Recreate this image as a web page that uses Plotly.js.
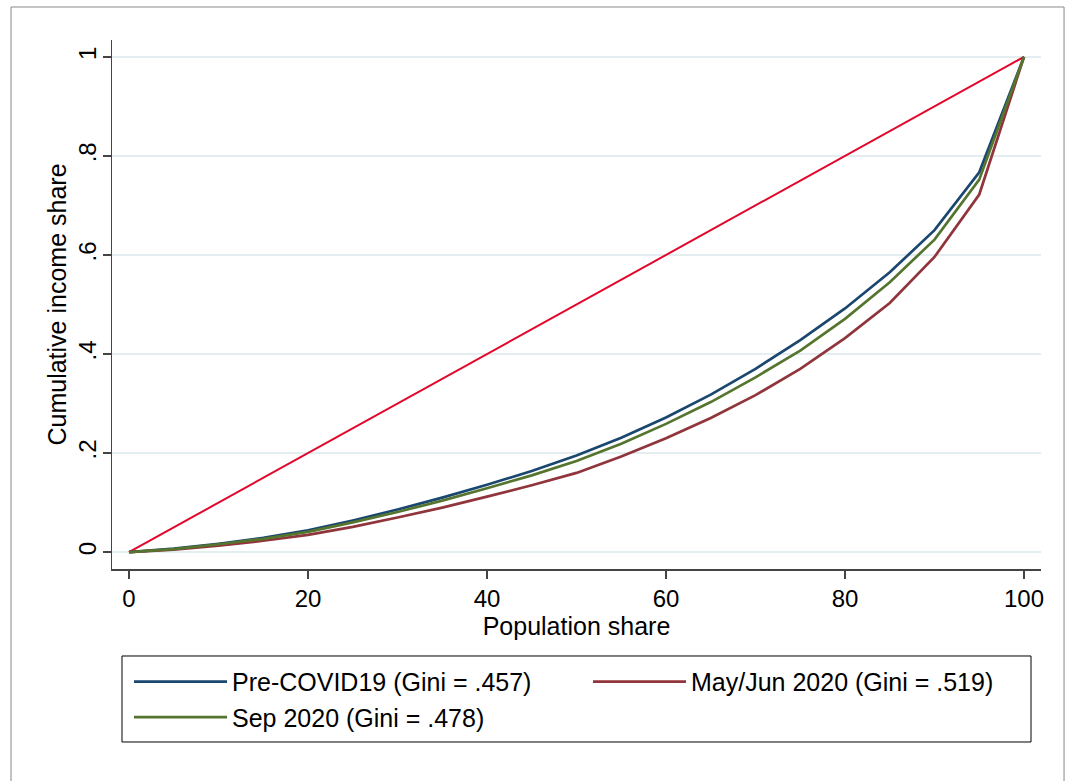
<!DOCTYPE html>
<html>
<head>
<meta charset="utf-8">
<script src="https://cdn.plot.ly/plotly-3.0.1.min.js"></script>
<style>
  html, body { margin: 0; padding: 0; background: #ffffff; }
  #chart { width: 1078px; height: 781px; }
</style>
</head>
<body>
<div id="chart"></div>
<script>
// Population share (percent)
const popShare = [0, 5, 10, 15, 20, 25, 30, 35, 40, 45, 50, 55, 60, 65, 70, 75, 80, 85, 90, 95, 100];
// Cumulative income share
const preCovid = [0, 0.007, 0.017, 0.029, 0.044, 0.064, 0.086, 0.110, 0.136, 0.164, 0.195, 0.231, 0.272, 0.318, 0.370, 0.428, 0.492, 0.565, 0.650, 0.767, 1.0];
const mayJun2020 = [0, 0.005, 0.013, 0.023, 0.035, 0.051, 0.070, 0.090, 0.112, 0.135, 0.160, 0.193, 0.230, 0.271, 0.317, 0.370, 0.432, 0.503, 0.596, 0.722, 1.0];
const sep2020 = [0, 0.006, 0.016, 0.027, 0.041, 0.060, 0.081, 0.104, 0.129, 0.155, 0.184, 0.219, 0.259, 0.303, 0.353, 0.407, 0.471, 0.545, 0.631, 0.752, 1.0];
// Line of equality
const equalityX = [0, 100];
const equalityY = [0, 1];
// Legend labels
const seriesNames = ["Pre-COVID19 (Gini = .457)", "May/Jun 2020 (Gini = .519)", "Sep 2020 (Gini = .478)"];
// Tick labels
const xTicks = [0, 20, 40, 60, 80, 100];
const xTickText = ["0", "20", "40", "60", "80", "100"];
const yTicks = [0, 0.2, 0.4, 0.6, 0.8, 1];
const yTickText = ["0", ".2", ".4", ".6", ".8", "1"];

const FONT = "Liberation Sans, Arial, Helvetica, sans-serif";

const traces = [
  { x: equalityX, y: equalityY, type: "scatter", mode: "lines", showlegend: false,
    line: { color: "#e3062b", width: 2 }, hoverinfo: "skip" },
  { x: popShare, y: preCovid, type: "scatter", mode: "lines", name: seriesNames[0],
    line: { color: "#1a476f", width: 2.7 } },
  { x: popShare, y: mayJun2020, type: "scatter", mode: "lines", name: seriesNames[1],
    line: { color: "#90353b", width: 2.7 } },
  { x: popShare, y: sep2020, type: "scatter", mode: "lines", name: seriesNames[2],
    line: { color: "#55752f", width: 2.7 } }
];

const layout = {
  width: 1078, height: 781,
  paper_bgcolor: "#ffffff", plot_bgcolor: "#ffffff",
  margin: { l: 112, r: 37, t: 40, b: 212, pad: 0 },
  font: { family: FONT, color: "#000000", size: 24 },
  showlegend: true,
  xaxis: {
    range: [-1.9, 101.9], tickvals: xTicks, ticktext: xTickText,
    showgrid: false, zeroline: false,
    showline: true, linecolor: "#444444", linewidth: 1.5,
    ticks: "outside", ticklen: 8, tickwidth: 1.5, tickcolor: "#444444",
    tickfont: { family: FONT, size: 24, color: "#000" },
    title: { text: "Population share", font: { family: FONT, size: 25, color: "#000" }, standoff: 4 },
    automargin: false, fixedrange: true
  },
  yaxis: {
    range: [-0.034, 1.034], tickvals: yTicks, ticktext: yTickText,
    showgrid: true, gridcolor: "#e4eef1", gridwidth: 1.5, zeroline: false,
    showline: true, linecolor: "#444444", linewidth: 1.5,
    ticks: "outside", ticklen: 8, tickwidth: 1.5, tickcolor: "#444444",
    tickangle: -90, ticklabelstandoff: -3,
    tickfont: { family: FONT, size: 24, color: "#000" },
    title: { text: "Cumulative income share", font: { family: FONT, size: 25, color: "#000" }, standoff: 0 },
    automargin: false, fixedrange: true
  },
  legend: {
    orientation: "h", x: 0.0183, xanchor: "left", y: -0.170, yanchor: "top",
    bgcolor: "rgba(0,0,0,0)", borderwidth: 0,
    itemwidth: 93, entrywidth: 351,
    font: { family: FONT, size: 25, color: "#000" },
    traceorder: "normal", tracegroupgap: 0
  },
  shapes: [
    { type: "rect", xref: "paper", yref: "paper",
      x0: 0.01076, x1: 0.98924, y0: -0.32703, y1: -0.16446,
      line: { color: "#000000", width: 1 }, fillcolor: "rgba(0,0,0,0)" },
    { type: "rect", xref: "paper", yref: "paper",
      x0: -0.1087, x1: 1.0248, y0: -0.45, y1: 1.0624,
      line: { color: "#888888", width: 1 }, fillcolor: "rgba(0,0,0,0)" }
  ]
};

Plotly.newPlot("chart", traces, layout, { displayModeBar: false, staticPlot: true });
</script>
</body>
</html>
